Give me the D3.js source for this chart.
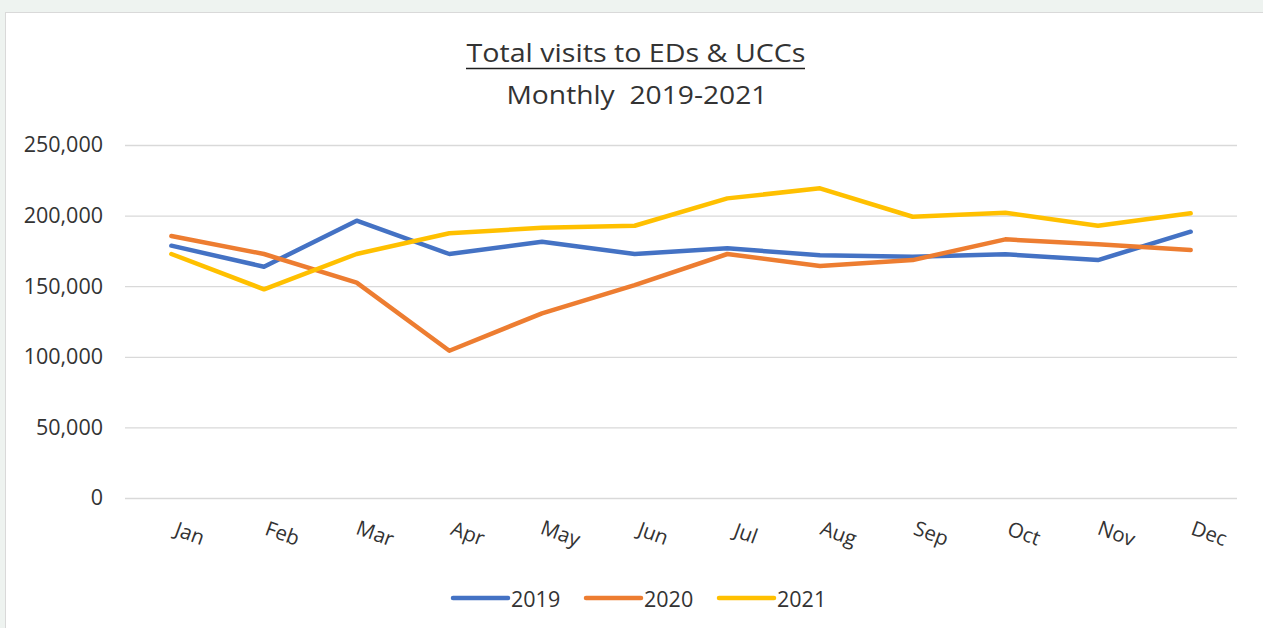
<!DOCTYPE html>
<html>
<head>
<meta charset="utf-8">
<script src="https://cdn.jsdelivr.net/npm/d3@7"></script>
<style>
  html, body { margin: 0; padding: 0; background: #eef3f0; }
  svg { display: block; }
  text { font-family: "Open Sans", "Liberation Sans", sans-serif; fill: #333333; }
</style>
</head>
<body>
<script>
const months = ["Jan","Feb","Mar","Apr","May","Jun","Jul","Aug","Sep","Oct","Nov","Dec"];
const v2019 = [178700,163800,196400,172800,181500,172800,176800,172000,170900,172600,168500,188600];
const v2020 = [185500,172800,152500,104300,130800,150800,172800,164300,168500,183200,179700,175600];
const v2021 = [172800,147800,172800,187500,191400,192800,212200,219300,199200,202000,192800,201600];
const seriesNames = ["2019","2020","2021"];
const seriesColors = ["#4472C4","#ED7D31","#FFC000"];
const yTicks = [0,50000,100000,150000,200000,250000];
const titleLine1 = "Total visits to EDs & UCCs";
const titleLine2 = "Monthly  2019-2021";

const series = [v2019, v2020, v2021].map((vals, i) => ({ name: seriesNames[i], color: seriesColors[i], values: vals }));

const W = 1263, H = 628;
const svg = d3.select("body").append("svg").attr("width", W).attr("height", H);

// panel
svg.append("rect").attr("x", 5.5).attr("y", 12.5).attr("width", W - 4).attr("height", H)
  .attr("fill", "#ffffff").attr("stroke", "#d9d9d9").attr("stroke-width", 1);

const plot = { left: 125, right: 1237, top: 145, bottom: 498 };

const x = d3.scaleBand().domain(months).range([plot.left, plot.right]);
const y = d3.scaleLinear().domain([0, 250000]).range([plot.bottom, plot.top]);

// gridlines + y labels
const yAxis = d3.axisLeft(y).tickValues(yTicks).tickSize(-(plot.right - plot.left))
  .tickFormat(d3.format(",")).tickPadding(22);
const gy = svg.append("g").attr("transform", `translate(${plot.left},0)`).call(yAxis);
gy.attr("font-size", null).attr("font-family", null);
gy.select(".domain").remove();
gy.selectAll(".tick line").attr("stroke", "#d9d9d9").attr("stroke-width", 1.3);
gy.selectAll(".tick text").style("font-size", "21.5px").attr("fill", "#333333");

// x labels
const xAxis = d3.axisBottom(x).tickSize(0).tickPadding(0);
const gx = svg.append("g").attr("transform", `translate(0,${plot.bottom})`).call(xAxis);
gx.attr("font-size", null).attr("font-family", null);
gx.select(".domain").remove();
gx.selectAll(".tick text")
  .style("font-size", "20.5px").attr("fill", "#333333")
  .attr("text-anchor", "middle").attr("dy", null).attr("y", null)
  .attr("transform", "translate(18,37) rotate(20)")
  .attr("dominant-baseline", "middle");

// lines
const line = d3.line().x((d, i) => x(months[i]) + x.bandwidth() / 2).y(d => y(d));
svg.append("g").selectAll("path").data(series).join("path")
  .attr("d", d => line(d.values))
  .attr("fill", "none").attr("stroke", d => d.color).attr("stroke-width", 4.5)
  .attr("stroke-linejoin", "round").attr("stroke-linecap", "round");

// title
svg.append("text").attr("x", 636).attr("y", 62).attr("text-anchor", "middle")
  .style("font-size", "26px").attr("fill", "#1f1f1f")
  .attr("textLength", 339).attr("lengthAdjust", "spacingAndGlyphs").text(titleLine1);
svg.append("line").attr("x1", 466).attr("x2", 805).attr("y1", 68.5).attr("y2", 68.5)
  .attr("stroke", "#1f1f1f").attr("stroke-width", 1.6);
svg.append("text").attr("x", 637).attr("y", 104).attr("text-anchor", "middle")
  .attr("xml:space", "preserve").style("white-space", "pre")
  .style("font-size", "26px").attr("fill", "#1f1f1f")
  .attr("textLength", 261).attr("lengthAdjust", "spacingAndGlyphs").text(titleLine2);

// legend
const legendX = [452, 585, 718];
const lg = svg.append("g").selectAll("g").data(series).join("g")
  .attr("transform", (d, i) => `translate(${legendX[i]},598)`);
lg.append("line").attr("x1", 1).attr("x2", 56).attr("y1", 0).attr("y2", 0)
  .attr("stroke", d => d.color).attr("stroke-width", 4.5).attr("stroke-linecap", "round");
lg.append("text").attr("x", 59).attr("y", 0).attr("dominant-baseline", "central")
  .style("font-size", "21.5px").attr("fill", "#262626").text(d => d.name);
</script>
</body>
</html>
